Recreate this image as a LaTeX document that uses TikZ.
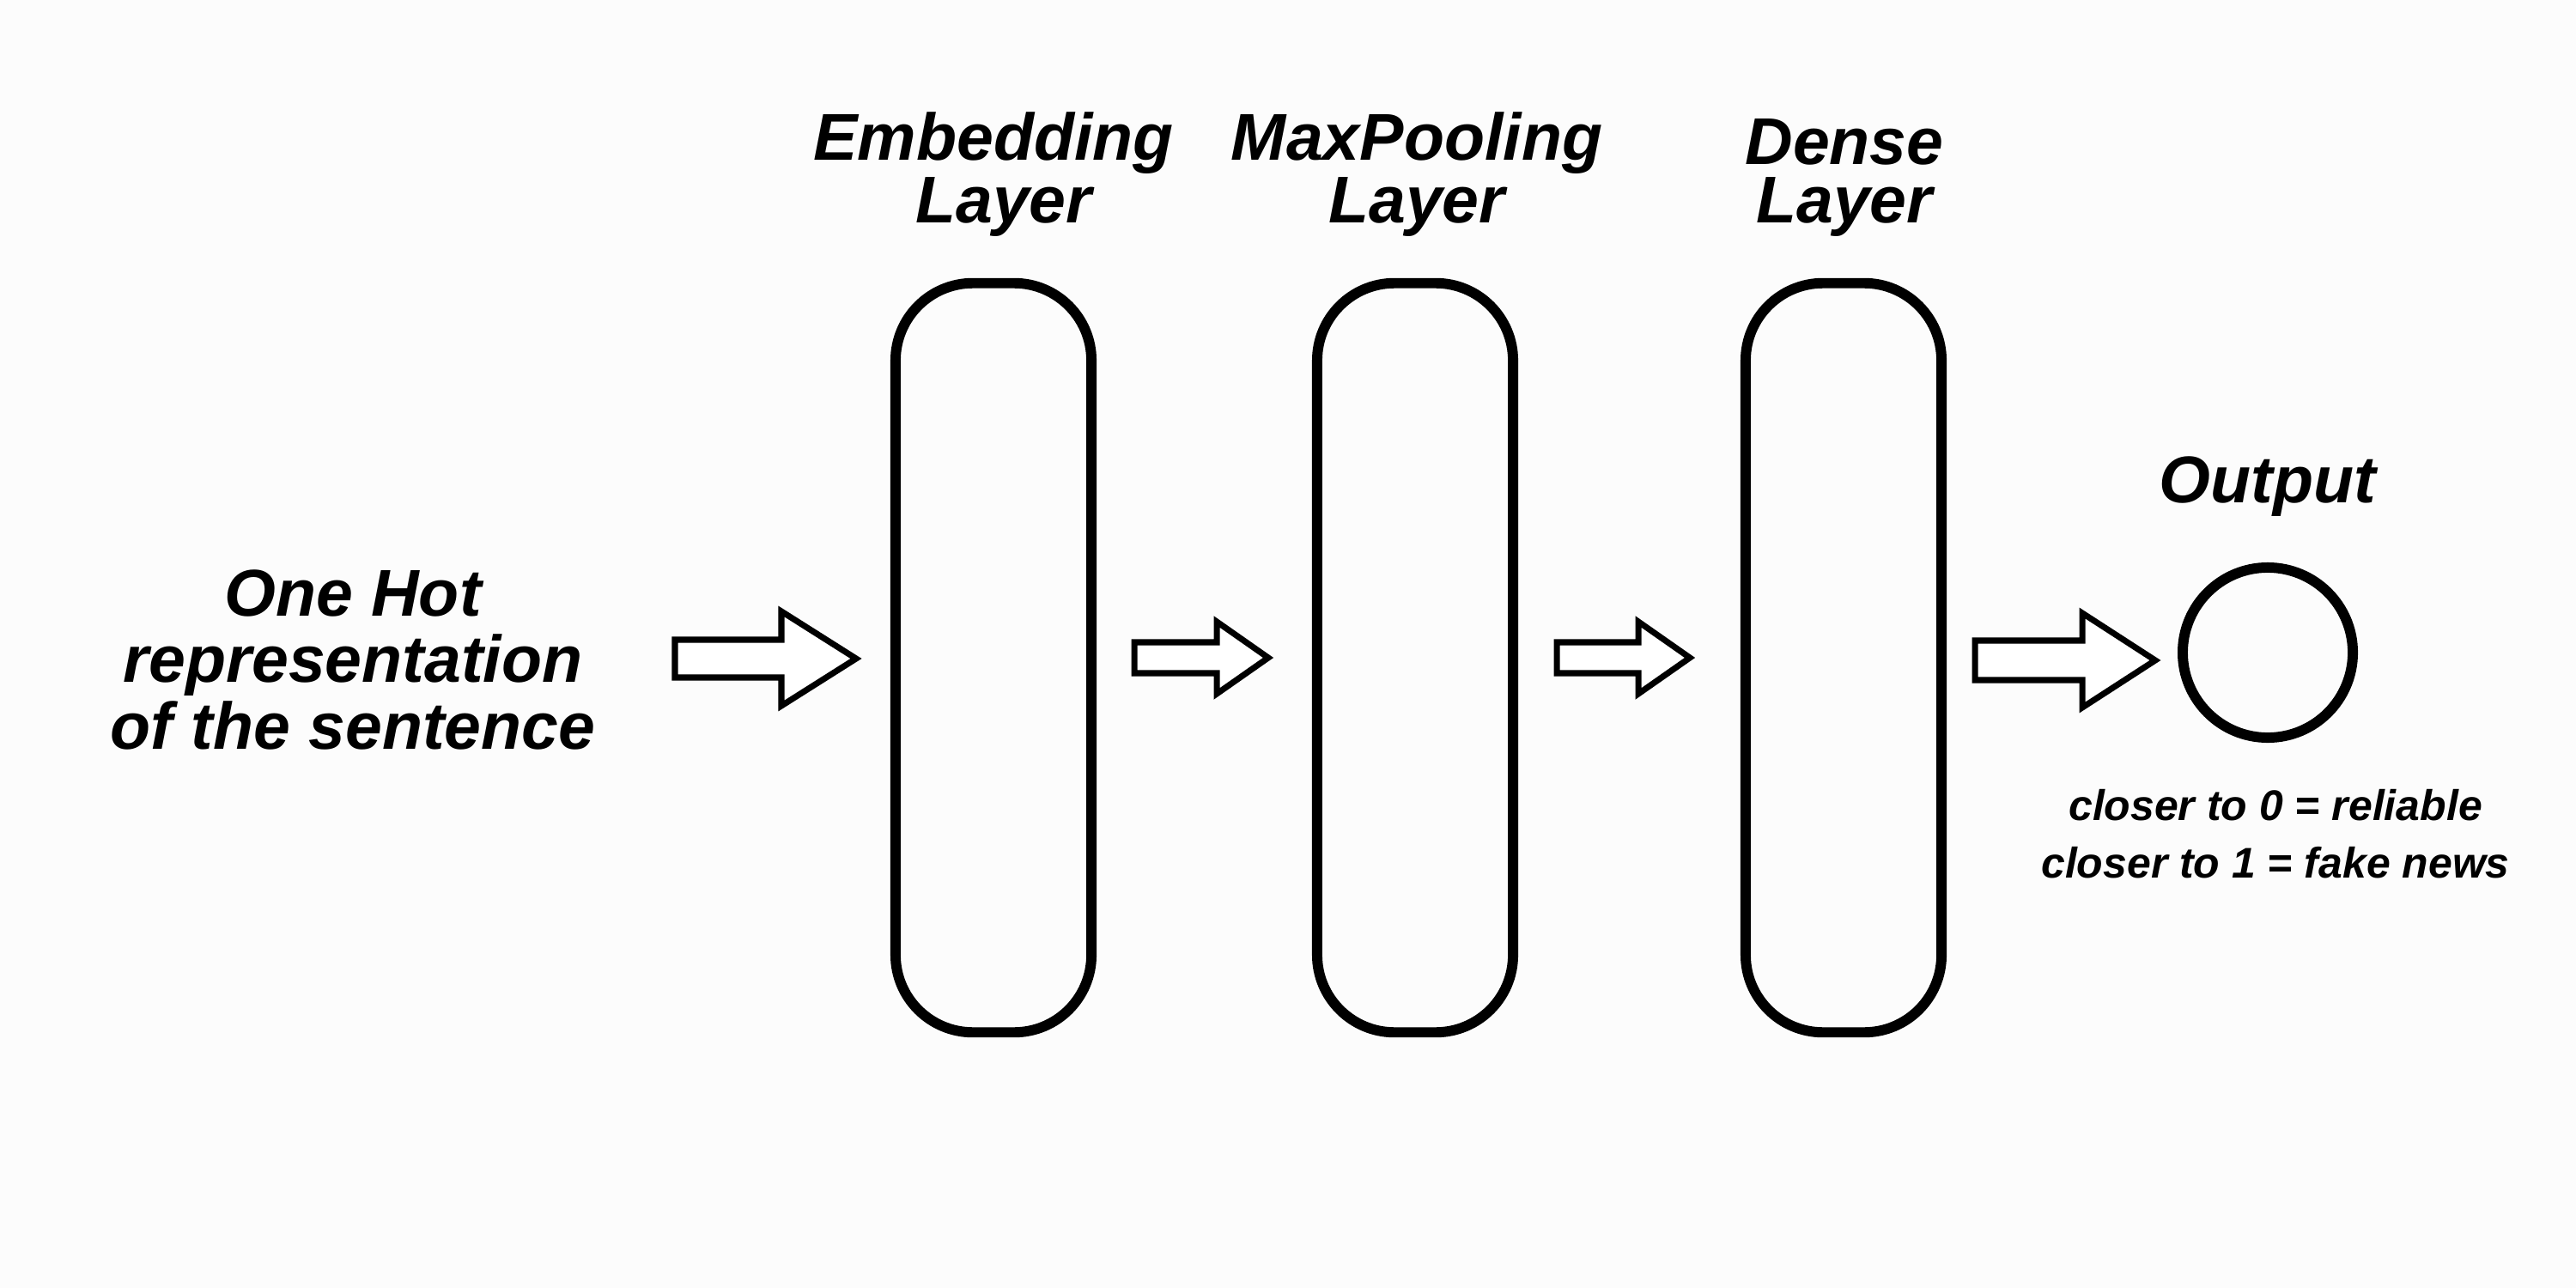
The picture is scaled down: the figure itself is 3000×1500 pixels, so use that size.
\documentclass[tikz,border=0pt]{standalone}
\usepackage{fontspec}
\setmainfont{Liberation Sans}
\definecolor{bgcol}{RGB}{252,252,252}
\newcommand\blockarr[6]{% left x, tip x, centre y, shaft half, head half, head base x
  \draw[barrow] (#1,#3-#4) -- (#6,#3-#4) -- (#6,#3-#5) -- (#2,#3) -- (#6,#3+#5) -- (#6,#3+#4) -- (#1,#3+#4) -- cycle;}
\begin{document}
\begin{tikzpicture}[x=0.01cm,y=-0.01cm,
  layer/.style={draw, line width=3.4pt, rounded corners=0.9cm, minimum width=2.28cm, minimum height=8.72cm, inner sep=0pt},
  outnode/.style={draw, circle, line width=3.4pt, minimum size=1.98cm, inner sep=0pt},
  barrow/.style={draw, line width=2pt, line join=miter, fill=white},
  bigtxt/.style={font=\fontsize{21.9}{21.9}\selectfont\bfseries\itshape, align=center, inner sep=0pt, anchor=base},
  headtxt/.style={font=\fontsize{21.9}{19.1}\selectfont\bfseries\itshape, align=center, inner sep=0pt, anchor=base},
  smalltxt/.style={font=\fontsize{14.2}{18.8}\selectfont\bfseries\itshape, align=center, inner sep=0pt, anchor=base}]
\fill[bgcol] (0,0) rectangle (3000,1500);
\useasboundingbox (0,0) rectangle (3000,1500);

\node[layer] (emb) at (1157,766) {};
\node[layer] (maxp) at (1648,766) {};
\node[layer] (dense) at (2147,766) {};
\node[outnode] (out) at (2641,760) {};

\node[headtxt] (embt) at (1157,259) {Embedding\\\hspace*{0.24cm}Layer};
\node[headtxt] (maxt) at (1650,259) {MaxPooling\\Layer};
\node[headtxt] (denset) at (2148,259) {Dense\\Layer};
\node[headtxt] (outt) at (2641,585) {Output};

\node[bigtxt] (input) at (411,872) {One Hot\\representation\\of the sentence};
\node[smalltxt] (note) at (2650,1022) {closer to 0 = reliable\\closer to 1 = fake news};

\blockarr{786}{997}{767}{22}{55}{910}
\blockarr{1321}{1477}{766}{18}{42}{1417}
\blockarr{1813}{1968}{766}{18}{42}{1908}
\blockarr{2300}{2510}{769}{23}{55}{2425}
\end{tikzpicture}
\end{document}
